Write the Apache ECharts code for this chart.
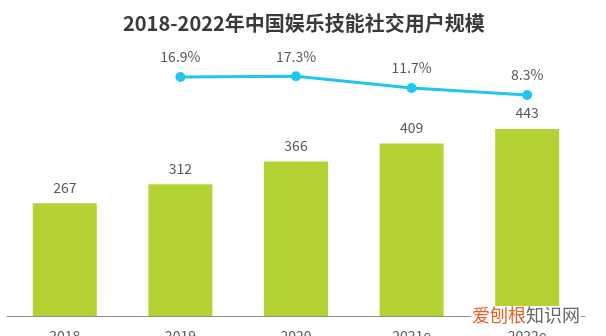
<!DOCTYPE html>
<html><head><meta charset="utf-8">
<script src="https://cdn.jsdelivr.net/npm/echarts@6/dist/echarts.min.js"></script>
<style>html,body{margin:0;padding:0;background:#fff}#c{width:606px;height:336px}</style>
</head><body><div id="c"></div>
<script>
var categories = ['2018', '2019', '2020', '2021e', '2022e'];
var userScale = [267, 312, 366, 409, 443];
var growthRate = [null, 16.9, 17.3, 11.7, 8.3];
var titleText = '2018-2022年中国娱乐技能社交用户规模';
var FONT = '"Noto Sans CJK SC", "Noto Sans", sans-serif';

var chart = echarts.init(document.getElementById('c'));
chart.setOption({
  backgroundColor: '#fff',
  animation: false,
  title: {
    text: titleText, left: 118, top: 8,
    textStyle: { fontFamily: FONT, fontSize: 20, fontWeight: 'bold', color: '#3a3a3a' }
  },
  grid: { left: 7, right: 21, top: 40, bottom: 20, containLabel: false, outerBoundsMode: 'none' },
  xAxis: {
    type: 'category', data: categories,
    axisLine: { lineStyle: { color: '#8c8c8c', width: 1 } },
    axisTick: { show: false },
    axisLabel: { fontFamily: FONT, fontSize: 14, color: '#595959', margin: 13 }
  },
  yAxis: [
    { type: 'value', min: 0, max: 654, show: false },
    { type: 'value', min: -97.3, max: 34.6, show: false }
  ],
  series: [
    {
      type: 'bar', data: userScale, barWidth: 64, yAxisIndex: 0,
      itemStyle: { color: '#b3d334' },
      label: { show: true, position: 'top', distance: 9, fontFamily: FONT, fontSize: 14, color: '#595959' }
    },
    {
      type: 'line', data: growthRate, yAxisIndex: 1,
      symbol: 'circle', symbolSize: 10,
      lineStyle: { color: '#1fc6f0', width: 3 },
      itemStyle: { color: '#1fc6f0' },
      label: { show: true, position: 'top', distance: 8, fontFamily: FONT, fontSize: 14, color: '#595959',
        formatter: function (p) { return p.value + '%'; } }
    }
  ],
  graphic: [{
    type: 'text', left: 471, top: 306, z: 100,
    style: {
      text: '{a|爱刨根}{b|知识网}', backgroundColor: '#fff', padding: [0, 1, 0, 1],
      rich: {
        a: { fontFamily: FONT, fontSize: 18, fill: '#e5622a' },
        b: { fontFamily: FONT, fontSize: 18, fill: '#666' }
      }
    }
  }]
});
</script></body></html>
